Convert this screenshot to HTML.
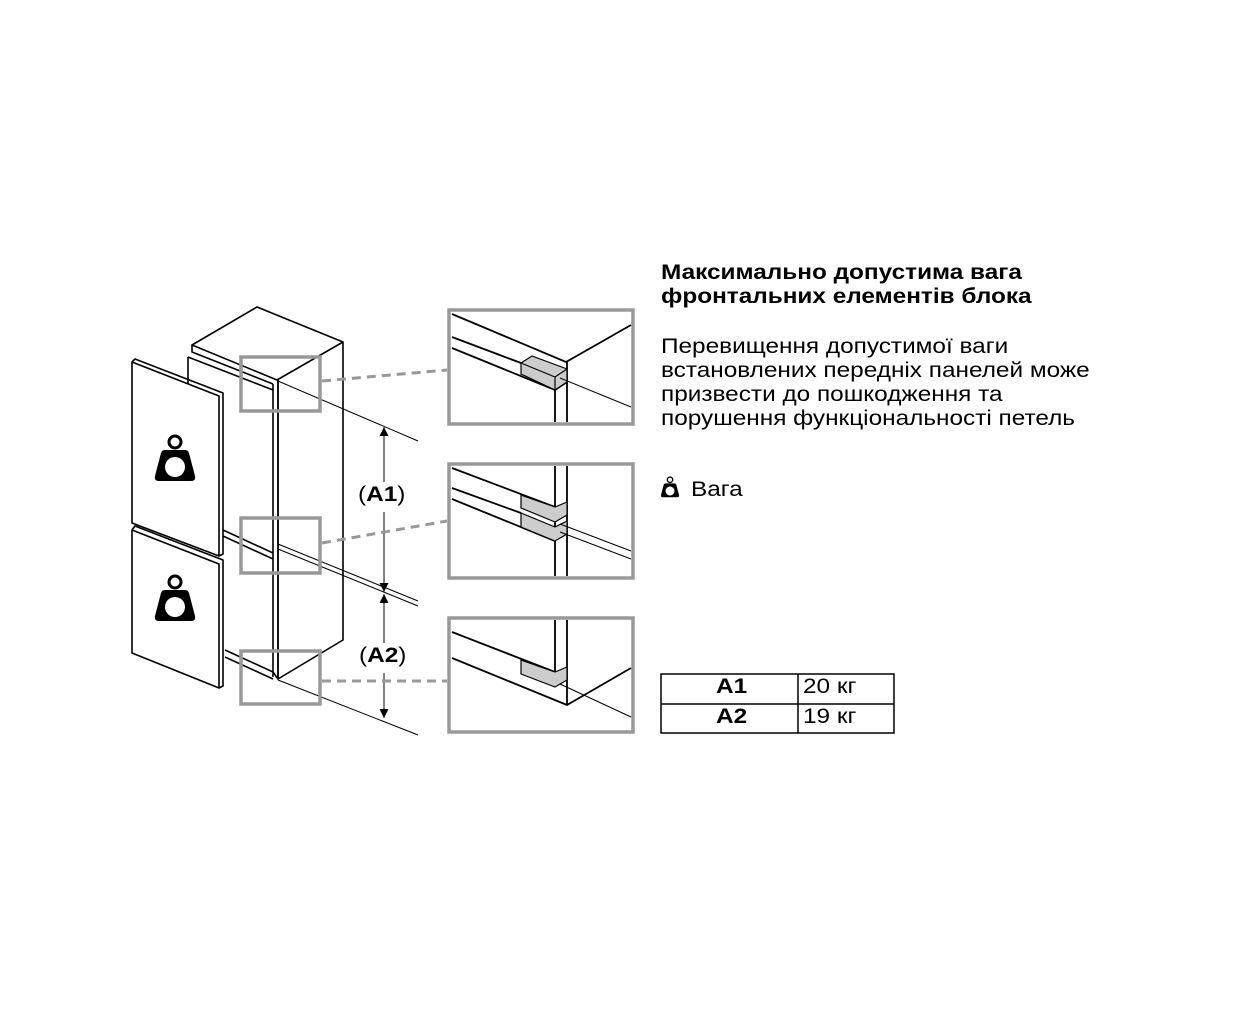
<!DOCTYPE html>
<html><head><meta charset="utf-8"><style>
body{margin:0;background:#fff;}
.t{position:absolute;font-family:"Liberation Sans",sans-serif;color:#000;transform-origin:0 0;transform:scaleX(1.16);white-space:nowrap;}
</style></head><body>
<div style="position:relative;width:1252px;height:1024px;overflow:hidden;">
<svg width="1252" height="1024" style="position:absolute;left:0;top:0" xmlns="http://www.w3.org/2000/svg">
<defs>
<g id="wt">
<circle cx="0" cy="-25" r="6" fill="none" stroke="#000" stroke-width="3"/>
<path d="M-10,-17 L10,-17 Q13,-17 14,-14 L20,9 Q21,14 16,14 L-16,14 Q-21,14 -20,9 L-14,-14 Q-13,-17 -10,-17Z" fill="#000"/>
<circle cx="0" cy="0" r="10" fill="#fff"/>
</g>
<marker id="ar" viewBox="0 0 10 10" refX="10" refY="5" markerWidth="9" markerHeight="12" orient="auto-start-reverse" markerUnits="userSpaceOnUse"><path d="M0,0 L10,5 L0,10Z" fill="#000"/></marker>
</defs>
<g fill="none" stroke="#000" stroke-width="1.6" stroke-linejoin="round">
<path d="M192,345 L257,307 L343,342 L277,380 Z" fill="#fff"/>
<path d="M343,342 L343,640 L278,679 L278,380"/>
<path d="M192,345 L192,352 L273,384 M188,357 L273,390 M188,357 L188,530"/>
<path d="M273,384 L273,677 M278,380 L278,679"/>
<path d="M225,650 L273,672 L278,679 M225,657 L273,679"/>
<path d="M223,530 L273,553 M223,536 L273,559"/>
<path d="M132,362 L219,396 L219,556 L132,523 Z" fill="#fff"/>
<path d="M132,362 L135,359 L223,393 L223,554 L219,556"/>
<path d="M132,530 L219,564 L219,688 L132,653 Z" fill="#fff"/>
<path d="M132,530 L135,526 L223,560 L223,686 L219,688"/>
</g>
<use href="#wt" x="175" y="467"/>
<use href="#wt" x="175" y="607"/>
<g stroke="#000" stroke-width="1" fill="none">
<path d="M278,381 L418,441 M278,544 L418,601 M278,549 L418,606 M278,680 L418,735"/>
<path d="M384,427 L384,482 M384,512 L384,592" marker-start="url(#ar)" marker-end="url(#ar)"/>
<path d="M384,594 L384,643 M384,673 L384,718" marker-start="url(#ar)" marker-end="url(#ar)"/>
</g>
<g fill="none" stroke="#999" stroke-width="3.5">
<rect x="241" y="357" width="79" height="54"/>
<rect x="241" y="518" width="79" height="55"/>
<rect x="241" y="651" width="79" height="53"/>
<path d="M322,381 L447,370 M322,543 L447,521 M322,681 L447,681" stroke-dasharray="9,6" stroke-width="3"/>
<rect x="449" y="310" width="184" height="114"/>
<rect x="449" y="464" width="184" height="114"/>
<rect x="449" y="618" width="184" height="114"/>
</g>
<g stroke="#000" stroke-width="1.8" fill="none">
<path d="M452,314 L566,362 L631,325 M452,337 L521,363 M452,348 L555,390 L567,382"/>
<path d="M555,390 L555,422 M567,362 L567,422"/>
<path d="M521,363 L521,374 L555,390 L567,382 L567,369 L532,356 Z" fill="#ccc" stroke-width="1.2"/>
<path d="M521,363 L555,377 L567,369 M555,377 L555,390" stroke-width="1.2"/>
<path d="M560,378 L631,407" stroke-width="1"/>
</g>
<g stroke="#000" stroke-width="1.8" fill="none">
<path d="M452,468 L555,507 M452,488 L521,513 M452,499 L555,541"/>
<path d="M555,466 L555,576 M567,466 L567,576"/>
<path d="M521,495 L521,508 L555,522 L567,515 L567,502 L555,507 L521,495Z" fill="#ccc" stroke-width="1.2"/>
<path d="M521,513 L521,527 L555,541 L567,534 L567,521 L555,527 Z" fill="#ccc" stroke-width="1.2"/>
<path d="M560,524 L631,551 M560,532 L631,559" stroke-width="1"/>
</g>
<g stroke="#000" stroke-width="1.8" fill="none">
<path d="M452,632 L555,672 M452,658 L567,705 L631,668"/>
<path d="M555,620 L555,672 M567,620 L567,705"/>
<path d="M521,660 L521,674 L555,687 L567,680 L567,667 L555,672 L521,660Z" fill="#ccc" stroke-width="1.2"/>
<path d="M560,684 L631,717" stroke-width="1"/>
</g>
<g transform="translate(670,491) scale(0.45)"><use href="#wt"/></g>
<g stroke="#000" stroke-width="1.5" fill="none">
<rect x="661" y="674" width="233" height="59"/>
<path d="M798,674 L798,733 M661,704 L894,704"/>
</g>
</svg>
<div class="t" style="left:358px;top:483px;font-size:21px;">(<b>A1</b>)</div>
<div class="t" style="left:359px;top:644px;font-size:21px;">(<b>A2</b>)</div>
<div class="t" style="left:661px;top:261px;font-size:21px;font-weight:bold;line-height:24px;">Максимально допустима вага<br>фронтальних елементів блока</div>
<div class="t" style="left:661px;top:335px;font-size:21px;line-height:24px;">Перевищення допустимої ваги<br>встановлених передніх панелей може<br>призвести до пошкодження та<br>порушення функціональності петель</div>
<div class="t" style="left:691px;top:478px;font-size:21px;">Вага</div>
<div class="t" style="left:716px;top:675px;font-size:21px;font-weight:bold;">A1</div>
<div class="t" style="left:716px;top:705px;font-size:21px;font-weight:bold;">A2</div>
<div class="t" style="left:803px;top:675px;font-size:21px;">20 кг</div>
<div class="t" style="left:803px;top:705px;font-size:21px;">19 кг</div>
</div>
</body></html>
